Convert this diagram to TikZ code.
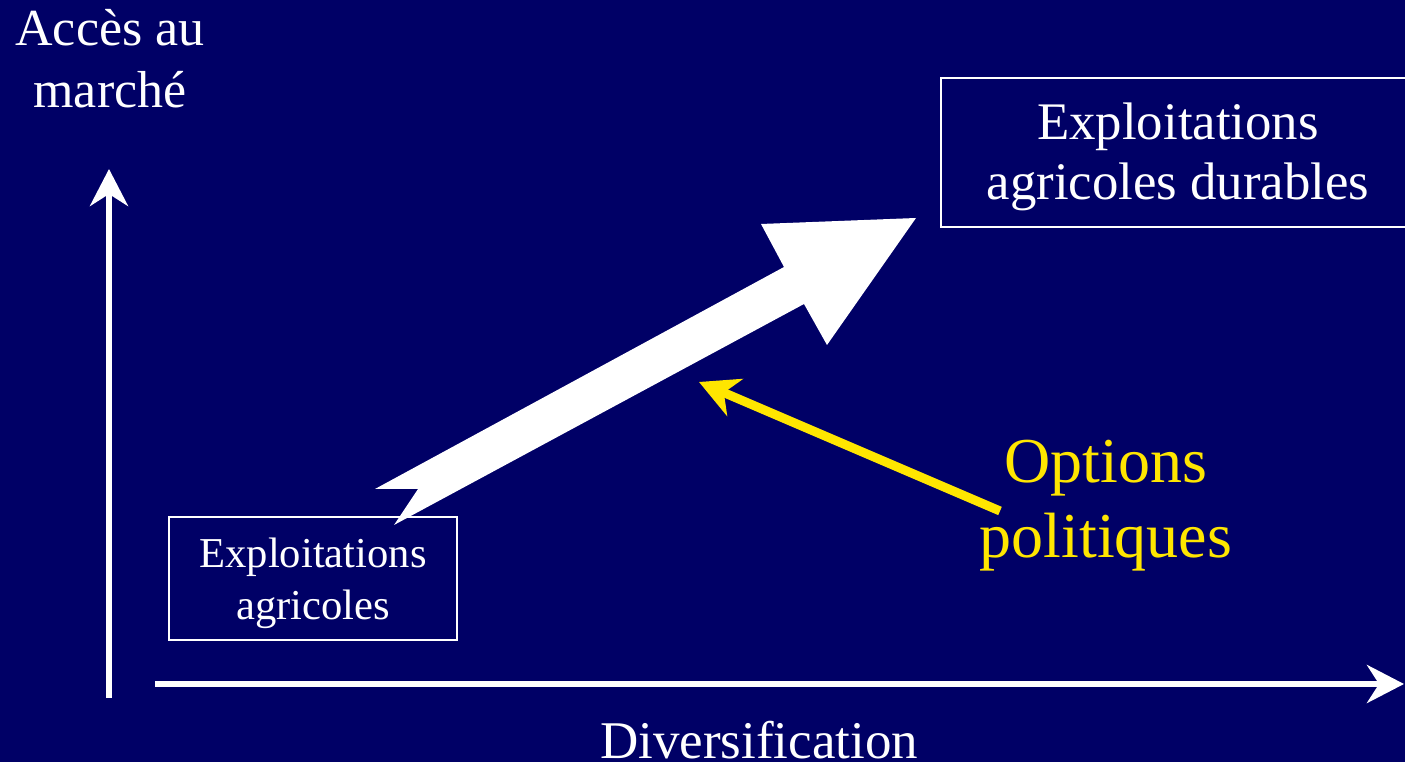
\documentclass[tikz,border=0pt]{standalone}
\usepackage{tkz-euclide}
\usepackage{tikz}
\usepackage{fontspec}
\setmainfont{Liberation Serif}
\usetikzlibrary{arrows.meta}
\definecolor{fond}{RGB}{0,0,102}
\definecolor{jaune}{RGB}{255,230,0}

\begin{document}
\begin{tikzpicture}[x=1pt,y=1pt,
    axe/.style={white,line width=6pt,line cap=butt,-{Stealth[length=37pt,width=38pt,inset=12pt]}},
    politique/.style={jaune,line width=9pt,line cap=butt,-{Stealth[length=39pt,width=40pt,inset=12pt]}},
    cadre/.style={white,line width=2pt},
    texte/.style={white,anchor=base,align=center,inner sep=0pt}]
    \useasboundingbox (0,0) rectangle (1405,762);
    \fill[fond] (0,0) rectangle (1405,762);
    % axes
    \tkzDefPoint(109,64){O1}
    \tkzDefPoint(109,593){Y}
    \tkzDefPoint(155,78){O2}
    \tkzDefPoint(1404,78){X}
    \tkzDrawSegments[axe](O1,Y O2,X)
    % grosse fleche
    \tkzDefPoint(375,273){A}
    \tkzDefPoint(784,495){B}
    \tkzDefPoint(761,538){C}
    \tkzDefPoint(916,544){D}
    \tkzDefPoint(827,417){E}
    \tkzDefPoint(804,458){F}
    \tkzDefPoint(394,237){G}
    \tkzDefPoint(418,273){H}
    \tkzFillPolygon[white](A,B,C,D,E,F,G,H)
    % options politiques
    \tkzDefPoint(1000,251){K}
    \tkzDefPoint(699,380){L}
    \tkzDrawSegments[politique](K,L)
    % cadres
    \tkzDefPoint(169,122){M}
    \tkzDefPoint(457,245){N}
    \tkzDefPoint(941,535){P}
    \tkzDefPoint(1412,684){Q}
    \draw[cadre] (M) rectangle (N);
    \draw[cadre] (P) rectangle (Q);
    \node[texte,font=\fontsize{42.6}{52}\selectfont] (depart) at (313,142) {Exploitations\\agricoles};
    \node[texte,font=\fontsize{52.8}{60}\selectfont] (but) at (1178,562) {Exploitations\\agricoles durables};
    \node[texte,font=\fontsize{64}{75}\selectfont,jaune] (options) at (1106,204) {Options\\politiques};
    \node[texte,font=\fontsize{52}{62}\selectfont] (acces) at (110,654) {Accès au\\marché};
    \node[texte,font=\fontsize{53}{60}\selectfont] (divers) at (759,3) {Diversification};
    %\tkzLabelPoints[right](D)
\end{tikzpicture}
\end{document}
